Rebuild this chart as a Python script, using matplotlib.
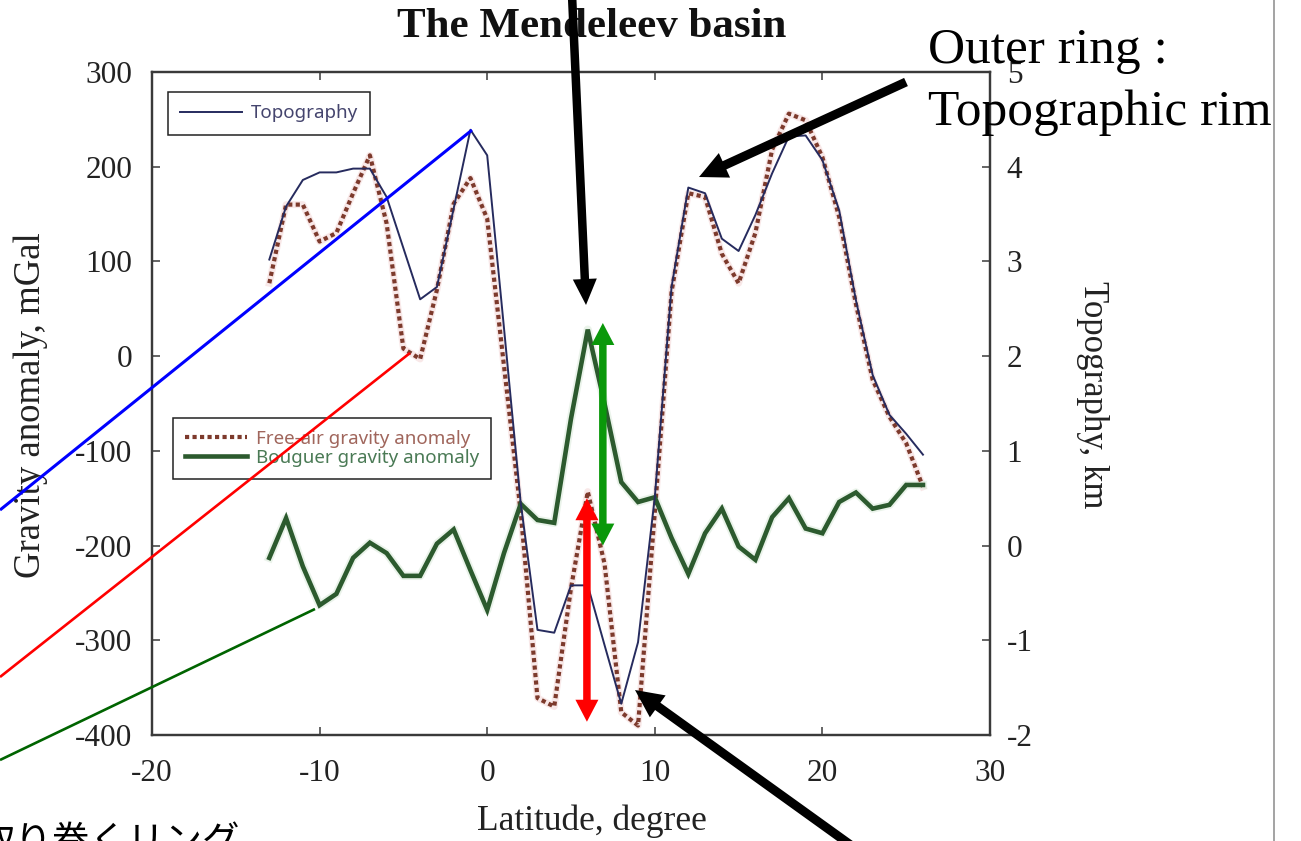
import numpy as np
import matplotlib
matplotlib.use("Agg")
import matplotlib.pyplot as plt
from matplotlib.patches import Polygon
from matplotlib.lines import Line2D
from matplotlib.transforms import IdentityTransform

plt.rcParams["font.family"] = ["Liberation Serif", "DejaVu Serif"]
plt.rcParams["axes.unicode_minus"] = False

# ---- profile across the Mendeleev basin -------------------------------
latitude = [-13, -12, -11, -10, -9, -8, -7, -6, -5, -4,
            -3, -2, -1, 0, 1, 2, 3, 4, 5, 6,
            7, 8, 9, 10, 11, 12, 13, 14, 15, 16,
            17, 18, 19, 20, 21, 22, 23, 24, 25, 26]

topography_km = [3.02, 3.58, 3.86, 3.94, 3.94, 3.98, 3.98, 3.68, 3.14, 2.60,
                 2.73, 3.56, 4.39, 4.12, 2.30, 0.45, -0.89, -0.92, -0.42, -0.42,
                 -1.05, -1.67, -1.02, 0.51, 2.73, 3.78, 3.72, 3.24, 3.11, 3.49,
                 3.93, 4.32, 4.33, 4.07, 3.54, 2.59, 1.80, 1.38, 1.18, 0.96]

free_air_mgal = [77, 160, 160, 121, 130, 172, 212, 140, 8, -3,
                 70, 161, 188, 145, -10, -165, -361, -370, -245, -143,
                 -219, -376, -390, -165, 68, 172, 168, 108, 77, 130,
                 218, 256, 249, 210, 147, 55, -25, -64, -92, -138]

bouguer_mgal = [-213, -171, -222, -263, -251, -213, -197, -208, -232, -232,
                -198, -183, -226, -268, -208, -156, -173, -176, -66, 28,
                -50, -133, -154, -149, -192, -230, -187, -161, -201, -215,
                -170, -150, -182, -187, -154, -144, -161, -157, -136, -136]

x_ticks = [-20, -10, 0, 10, 20, 30]
gravity_ticks = [-400, -300, -200, -100, 0, 100, 200, 300]
topo_ticks = [-2, -1, 0, 1, 2, 3, 4, 5]

# amplitude markers (latitude, top, bottom) in mGal
bouguer_span = (6.9, 35, -200)
free_air_span = (5.95, -150, -386)

W, H = 1301, 841
fig = plt.figure(figsize=(W / 100, H / 100), dpi=100)
fig.patch.set_facecolor("white")

ax = fig.add_axes([152 / W, 1 - 735 / H, (990 - 152) / W, (735 - 72) / H])
ax2 = ax.twinx()

TOPO_C = "#262b5e"
FA_C = "#7d3a2c"
BG_C = "#2c5a2e"

# free-air anomaly: dotted with a faint halo
ax.plot(latitude, free_air_mgal, color="#f4d6d6", lw=5.0, alpha=0.55,
        solid_joinstyle="round", zorder=2)
fa_line, = ax.plot(latitude, free_air_mgal, color=FA_C, lw=3.0,
                   linestyle=(0, (1.0, 0.8)), dash_capstyle="butt",
                   zorder=3, label="Free-air gravity anomaly")
# Bouguer anomaly
ax.plot(latitude, bouguer_mgal, color="#d6e8d6", lw=6, alpha=0.5, zorder=2)
bg_line, = ax.plot(latitude, bouguer_mgal, color=BG_C, lw=3.3,
                   solid_joinstyle="miter", zorder=4,
                   label="Bouguer gravity anomaly")
# topography on the right-hand axis
topo_line, = ax2.plot(latitude, topography_km, color=TOPO_C, lw=1.4,
                      zorder=5, label="Topography")

ax.set_xlim(-20, 30)
ax.set_ylim(-400, 300)
ax2.set_ylim(-2, 5)
ax.set_xticks(x_ticks)
ax.set_yticks(gravity_ticks)
ax2.set_yticks(topo_ticks)

SPINE_C = "#3a3a3a"
for a in (ax, ax2):
    for s in a.spines.values():
        s.set_color(SPINE_C)
        s.set_linewidth(1.6)
ax.tick_params(axis="both", direction="in", length=6, width=1.1,
               color=SPINE_C, labelsize=22.5, labelcolor="#222222",
               top=True, right=False)
ax.tick_params(axis="y", pad=14)
ax.tick_params(axis="x", pad=17)
ax2.tick_params(axis="y", direction="in", length=6, width=1.1,
                color=SPINE_C, labelsize=22.5, labelcolor="#222222", pad=12)

ax.set_xlabel("Latitude, degree", fontsize=25.5, color="#222222",
              va="center", ha="center")
ax.xaxis.set_label_coords((592 - 152) / 838, (735 - 821) / 663)
ax.set_ylabel("Gravity anomaly, mGal", fontsize=26.5, color="#222222",
              va="center", ha="center")
ax.yaxis.set_label_coords((31 - 152) / 838, (735 - 405) / 663)
ax2.set_ylabel("Topography, km", fontsize=25, color="#222222",
               rotation=-90, va="center", ha="center")
ax2.yaxis.set_label_coords((1093 - 152) / 838, (735 - 395) / 663)

# legends
leg_font = {"family": ["Noto Sans", "DejaVu Sans"], "size": 13.5}
leg1 = ax2.legend(handles=[topo_line], loc="upper left",
                  bbox_to_anchor=(0.019, 0.970), borderaxespad=0,
                  prop=leg_font, frameon=True, fancybox=False,
                  framealpha=1, edgecolor="#222222", borderpad=0.66,
                  handlelength=3.3, handletextpad=0.45)
leg1.get_frame().set_linewidth(1.1)
leg1.get_texts()[0].set_color("#45456e")

leg2 = ax.legend(handles=[fa_line, bg_line], loc="upper left",
                 bbox_to_anchor=(0.025, 0.478), borderaxespad=0,
                 prop=leg_font, frameon=True, fancybox=False,
                 framealpha=1, edgecolor="#222222", borderpad=0.62,
                 handlelength=3.35, handletextpad=0.45, labelspacing=0.07)
leg2.get_frame().set_linewidth(1.1)
leg2.get_texts()[0].set_color("#a0665c")
leg2.get_texts()[1].set_color("#4a7a55")


def arrow_polygon(p0, p1, shaft_w, head_w, head_len, both=False):
    p0 = np.asarray(p0, float)
    p1 = np.asarray(p1, float)
    d = p1 - p0
    u = d / np.hypot(*d)
    n = np.array([-u[1], u[0]])
    sw, hw = shaft_w / 2, head_w / 2
    b1 = p1 - u * head_len
    if both:
        b0 = p0 + u * head_len
        pts = [p0, b0 + n * hw, b0 + n * sw, b1 + n * sw, b1 + n * hw, p1,
               b1 - n * hw, b1 - n * sw, b0 - n * sw, b0 - n * hw]
    else:
        pts = [p0 + n * sw, b1 + n * sw, b1 + n * hw, p1,
               b1 - n * hw, b1 - n * sw, p0 - n * sw]
    return np.array(pts)


def px(x, y):
    """Slide pixel position (origin top-left) to display coordinates."""
    return (x, H - y)


def add_poly(pts, color):
    fig.add_artist(Polygon(pts, closed=True, transform=IdentityTransform(),
                           facecolor=color, edgecolor="none", zorder=10))


# amplitude double arrows
for (lat_s, top, bot), col in ((bouguer_span, "#0a980a"),
                               (free_air_span, "#ff0000")):
    p_top = ax.transData.transform((lat_s, top))
    p_bot = ax.transData.transform((lat_s, bot))
    add_poly(arrow_polygon(p_top, p_bot, 7.5, 23, 22, both=True), col)

# black pointer arrows
add_poly(arrow_polygon(px(572, -5), px(586, 305), 8.5, 24, 26), "black")
add_poly(arrow_polygon(px(906, 82), px(699, 177), 9, 27, 28), "black")
add_poly(arrow_polygon(px(852, 846), px(635, 690), 9, 27, 28), "black")

# leader lines coming in from the left
for (x0, y0), (x1, y1), col, lw in (((0, 510), (472, 130), "#0000ff", 2.2),
                                     ((0, 677), (410, 353), "#ff0000", 1.9),
                                     ((0, 760), (315, 609), "#006400", 1.9)):
    a0, a1 = px(x0, y0), px(x1, y1)
    fig.add_artist(Line2D([a0[0], a1[0]], [a0[1], a1[1]],
                          transform=IdentityTransform(), color=col, lw=lw,
                          solid_capstyle="butt", zorder=9))

# slide edge
fig.add_artist(Line2D([1274, 1274], [0, H], transform=IdentityTransform(),
                      color="#8a8a8a", lw=1.1, zorder=9))

# texts
fig.text(592 / W, 1 - 37 / H, "The Mendeleev basin", fontsize=31,
         fontweight="bold", ha="center", va="baseline", color="#111111",
         zorder=5)
fig.text(928 / W, 1 - 63 / H, "Outer ring :", fontsize=37,
         ha="left", va="baseline", color="black", zorder=11)
fig.text(928 / W, 1 - 125 / H, "Topographic rim", fontsize=37,
         ha="left", va="baseline", color="black", zorder=11)
fig.text(-22 / W, 1 - 853 / H, "取り巻くリング", fontsize=27,
         family=["Noto Sans CJK JP", "DejaVu Sans"], ha="left",
         va="baseline", color="black", zorder=11)

fig.savefig("out.png", dpi=100, facecolor="white")
